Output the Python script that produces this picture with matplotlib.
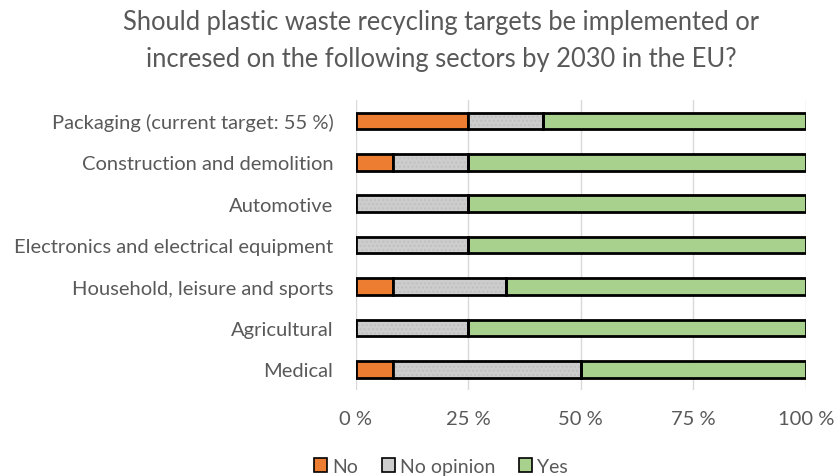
import numpy as np
import matplotlib.pyplot as plt
from matplotlib.ticker import FuncFormatter
from matplotlib.patches import Patch

plt.rcParams['font.family'] = ['Lato', 'DejaVu Sans']

# Sectors, top to bottom as shown
sectors = ['Packaging (current target: 55 %)', 'Construction and demolition', 'Automotive',
           'Electronics and electrical equipment', 'Household, leisure and sports',
           'Agricultural', 'Medical']
no = [25.0, 8.3, 0.0, 0.0, 8.3, 0.0, 8.3]
no_opinion = [16.7, 16.7, 25.0, 25.0, 25.0, 25.0, 41.7]
yes = [58.3, 75.0, 75.0, 75.0, 66.7, 75.0, 50.0]

text_col = '#595959'
y = np.arange(len(sectors))

fig = plt.figure(figsize=(8.35, 4.77), dpi=100)
ax = fig.add_axes([0.426, 0.180, 0.539, 0.608])

left = np.zeros(len(sectors))
h = 0.4
ax.barh(y, no, left=left, height=h, color='#ED7D31', edgecolor='black', linewidth=2, zorder=3)
left += no
ax.barh(y, no_opinion, left=left, height=h, color='#CDCDCD', edgecolor='#C0C0C0',
        hatch='....', linewidth=0, zorder=3)
ax.barh(y, no_opinion, left=left, height=h, fill=False, edgecolor='black', linewidth=2, zorder=4)
left += np.array(no_opinion)
ax.barh(y, yes, left=left, height=h, color='#A9D18E', edgecolor='black', linewidth=2, zorder=3)

ax.set_xlim(0, 100)
ax.set_ylim(len(sectors) - 0.5, -0.5)
ax.set_yticks(y)
ax.set_yticklabels(sectors)
ax.set_xticks([0, 25, 50, 75, 100])
ax.xaxis.set_major_formatter(FuncFormatter(lambda v, p: f'{int(v)} %'))
ax.tick_params(length=0, labelsize=14.5, labelcolor=text_col)
ax.tick_params(axis='y', pad=16)
ax.tick_params(axis='x', pad=14)
for s in ax.spines.values():
    s.set_visible(False)
ax.grid(axis='x', color='#D9D9D9', linewidth=1, zorder=0)

fig.suptitle('Should plastic waste recycling targets be implemented or\nincresed on the following sectors by 2030 in the EU?',
             x=0.528, y=0.978, fontsize=18.4, color=text_col, linespacing=1.6)

handles = [Patch(facecolor='#ED7D31', edgecolor='black', linewidth=1.2, label='No'),
           Patch(facecolor='#CDCDCD', edgecolor='black', linewidth=1.2, label='No opinion'),
           Patch(facecolor='#A9D18E', edgecolor='black', linewidth=1.2, label='Yes')]
fig.legend(handles=handles, loc='center', bbox_to_anchor=(0.528, 0.02), ncol=3, frameon=False,
           fontsize=14, labelcolor=text_col, handlelength=0.7, handleheight=0.7,
           handletextpad=0.25, columnspacing=1.2)

fig.savefig('out.png', dpi=100)
